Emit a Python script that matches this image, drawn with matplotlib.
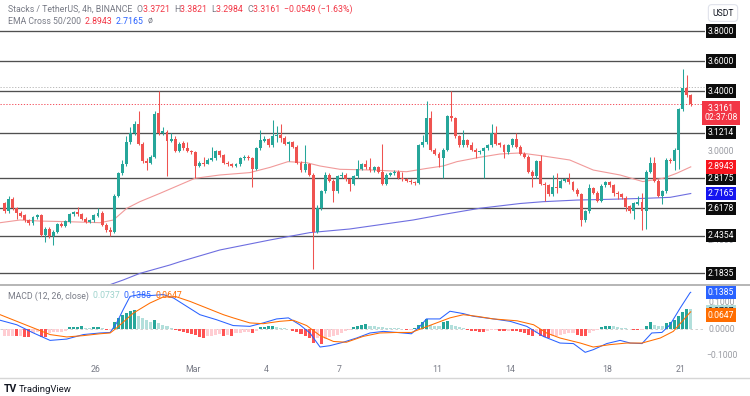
import matplotlib
matplotlib.use('Agg')
import matplotlib.pyplot as plt
import matplotlib.transforms as mtransforms
import numpy as np

plt.rcParams['font.family'] = ['Roboto', 'DejaVu Sans']

# ---------------- data ----------------
first_open = 2.65
closes = [2.60, 2.68, 2.62, 2.59, 2.57, 2.54, 2.52, 2.56, 2.57, 2.44,
          2.48, 2.43, 2.46, 2.51, 2.50, 2.53, 2.58, 2.59, 2.58, 2.55,
          2.53, 2.54, 2.57, 2.59, 2.51, 2.47, 2.46, 2.70, 2.85, 2.91,
          3.06, 3.12, 3.18, 3.05, 2.93, 2.92, 2.96, 3.25, 3.12, 3.13,
          3.07, 3.08, 3.00, 3.05, 3.02, 3.00, 2.99, 2.90, 2.92, 2.915,
          2.94, 2.95, 3.00, 2.97, 2.92, 2.91, 2.90, 2.91, 2.95, 2.96,
          2.95, 2.88, 3.02, 3.07, 3.08, 3.04, 3.10, 3.105, 3.09, 3.05,
          3.06, 3.03, 2.92, 2.87, 2.91, 2.84, 2.46, 2.62, 2.73, 2.84,
          2.80, 2.73, 2.83, 2.84, 2.81, 2.78, 2.83, 2.88, 2.91, 2.89,
          2.87, 2.89, 2.86, 2.78, 2.84, 2.85, 2.86, 2.82, 2.81, 2.80,
          2.79, 2.785, 3.04, 3.06, 3.22, 3.01, 2.98, 2.95, 3.01, 3.23,
          3.22, 3.10, 3.04, 3.07, 3.04, 3.01, 2.99, 3.00, 3.02, 3.04,
          3.12, 3.05, 3.04, 2.99, 3.04, 3.08, 3.03, 2.98, 2.96, 2.86,
          2.83, 2.93, 2.78, 2.77, 2.71, 2.76, 2.755, 2.80, 2.81, 2.79,
          2.74, 2.71, 2.54, 2.60, 2.75, 2.72, 2.67, 2.77, 2.79, 2.77,
          2.72, 2.71, 2.69, 2.63, 2.60, 2.65, 2.66, 2.60, 2.86, 2.92,
          2.80, 2.70, 2.73, 2.94, 2.93, 3.01, 3.28, 3.42, 3.372, 3.3161]
highs = [2.66, 2.70, 2.69, 2.63, 2.60, 2.58, 2.55, 2.57, 2.58, 2.58,
         2.49, 2.49, 2.47, 2.52, 2.53, 2.54, 2.59, 2.60, 2.63, 2.59,
         2.56, 2.55, 2.58, 2.62, 2.60, 2.52, 2.49, 2.71, 2.86, 2.94,
         3.10, 3.16, 3.20, 3.27, 3.06, 2.95, 2.97, 3.27, 3.40, 3.16,
         3.14, 3.12, 3.10, 3.06, 3.07, 3.06, 3.01, 3.00, 2.93, 2.96,
         2.95, 3.03, 3.01, 3.01, 2.98, 2.93, 2.92, 2.92, 2.96, 2.97,
         2.97, 2.96, 3.03, 3.14, 3.10, 3.09, 3.21, 3.17, 3.18, 3.10,
         3.07, 3.07, 3.04, 2.93, 3.04, 2.92, 2.85, 2.64, 2.74, 2.86,
         2.85, 2.81, 2.84, 2.86, 2.85, 2.82, 2.84, 2.94, 2.92, 2.94,
         2.95, 2.90, 2.90, 3.05, 2.85, 2.86, 2.87, 2.87, 2.86, 2.82,
         2.81, 2.80, 3.05, 3.11, 3.33, 3.27, 3.02, 2.99, 3.02, 3.24,
         3.40, 3.23, 3.11, 3.14, 3.08, 3.06, 3.02, 3.01, 3.03, 3.05,
         3.18, 3.17, 3.06, 3.05, 3.05, 3.09, 3.12, 3.04, 2.99, 2.97,
         2.87, 2.94, 2.97, 2.79, 2.78, 2.84, 2.85, 2.81, 2.82, 2.85,
         2.80, 2.75, 2.72, 2.61, 2.78, 2.76, 2.73, 2.78, 2.80, 2.80,
         2.78, 2.73, 2.72, 2.70, 2.64, 2.66, 2.70, 2.72, 2.87, 2.96,
         2.96, 2.81, 2.74, 2.95, 2.95, 3.02, 3.29, 3.55, 3.51, 3.3821]
lows = [2.59, 2.59, 2.61, 2.55, 2.56, 2.53, 2.51, 2.51, 2.55, 2.43,
        2.39, 2.42, 2.37, 2.45, 2.49, 2.49, 2.52, 2.57, 2.57, 2.54,
        2.52, 2.52, 2.53, 2.56, 2.50, 2.46, 2.43, 2.45, 2.69, 2.84,
        2.90, 3.05, 3.11, 3.04, 2.92, 2.87, 2.91, 2.95, 3.11, 3.11,
        2.83, 3.06, 2.99, 2.99, 3.01, 2.99, 2.98, 2.82, 2.89, 2.90,
        2.91, 2.93, 2.94, 2.96, 2.91, 2.90, 2.89, 2.89, 2.90, 2.94,
        2.94, 2.76, 2.87, 3.01, 3.06, 3.03, 3.03, 3.06, 3.06, 3.04,
        2.93, 3.02, 2.91, 2.86, 2.86, 2.83, 2.21, 2.45, 2.61, 2.72,
        2.79, 2.66, 2.72, 2.82, 2.80, 2.73, 2.77, 2.82, 2.87, 2.88,
        2.86, 2.86, 2.85, 2.77, 2.77, 2.83, 2.84, 2.81, 2.80, 2.79,
        2.78, 2.77, 2.78, 3.03, 3.05, 3.00, 2.97, 2.89, 2.82, 3.00,
        3.20, 3.09, 3.03, 3.03, 3.03, 3.00, 2.95, 2.98, 2.82, 3.01,
        3.03, 3.04, 3.03, 2.95, 2.98, 3.03, 3.02, 2.97, 2.95, 2.85,
        2.76, 2.82, 2.77, 2.67, 2.70, 2.70, 2.72, 2.75, 2.79, 2.78,
        2.73, 2.70, 2.50, 2.53, 2.59, 2.71, 2.66, 2.66, 2.76, 2.76,
        2.70, 2.68, 2.68, 2.60, 2.59, 2.55, 2.64, 2.47, 2.48, 2.85,
        2.79, 2.69, 2.65, 2.72, 2.92, 2.87, 2.88, 3.27, 3.36, 3.2984]

# EMA lines (candle index, value)
ema50_idx = [-1.1, 3.8, 8.7, 15.3, 23.5, 26.8, 30.1, 33.3, 38.3, 43.2, 46.9, 53.0,
             60.4, 65.4, 69.8, 74.4, 77.7, 82.6, 90.7, 99.0, 104.0, 108.0, 111.4,
             117.0, 122.0, 127.0, 132.6, 139.2, 145.0, 151.6, 157.2, 162.2, 165.5, 169.0]
ema50_val = [2.522, 2.540, 2.533, 2.529, 2.522, 2.540, 2.618, 2.662, 2.718, 2.775, 2.818, 2.840,
             2.856, 2.891, 2.929, 2.922, 2.900, 2.878, 2.873, 2.862, 2.884, 2.900, 2.929,
             2.958, 2.980, 2.987, 2.967, 2.940, 2.873, 2.840, 2.796, 2.818, 2.851, 2.8943]
ema200_idx = [24.0, 29.2, 33.3, 40.7, 43.2, 53.0, 65.4, 75.2, 85.0, 100.6, 107.2, 117.0,
              127.0, 132.6, 141.0, 149.0, 157.2, 163.9, 169.0]
ema200_val = [2.090, 2.140, 2.184, 2.240, 2.262, 2.340, 2.407, 2.456, 2.480, 2.540, 2.573, 2.618,
              2.650, 2.662, 2.673, 2.678, 2.684, 2.691, 2.7165]

levels = [3.8000, 3.6000, 3.4000, 3.1214, 2.8175, 2.6178, 2.4354, 2.1835]
level_labels = ['3.8000', '3.6000', '3.4000', '3.1214', '2.8175', '2.6178', '2.4354', '2.1835']
price_ticks = [2.4, 3.0, 3.2]          # the scale labels not hidden behind the boxes
last_price = 3.3161
prev_dotted = 3.424

# MACD
macd_hist = [-0.025, -0.025, -0.025, -0.028, -0.028, -0.030, -0.031, -0.015, -0.013, -0.030,
             -0.032, -0.015, -0.013, -0.011, -0.010, -0.009, 0.006, 0.008, 0.009, 0.010,
             0.004, 0.002, 0.008, 0.009, 0.003, -0.004, -0.003, 0.025, 0.042, 0.054,
             0.060, 0.067, 0.073, 0.048, 0.042, 0.033, 0.025, 0.035, 0.023, 0.016,
             0.010, 0.004, -0.005, -0.009, -0.013, -0.015, -0.018, -0.021, -0.030, -0.034,
             -0.028, -0.025, -0.021, -0.020, -0.028, -0.021, -0.025, -0.015, -0.014, -0.013,
             -0.012, -0.016, -0.006, 0.006, 0.008, 0.010, 0.012, 0.008, 0.004, 0.002,
             0.001, -0.009, -0.013, -0.018, -0.025, -0.034, -0.053, -0.034, -0.055, -0.038,
             -0.030, -0.025, -0.021, -0.015, -0.009, -0.005, 0.006, 0.013, 0.016, 0.018,
             0.013, 0.010, 0.008, 0.006, 0.005, 0.004, 0.003, 0.002, 0.001, -0.005,
             -0.004, 0.004, 0.016, 0.025, 0.038, 0.016, 0.013, 0.010, 0.025, 0.029,
             0.016, 0.010, 0.006, 0.004, -0.003, -0.006, -0.009, -0.011, -0.013, -0.006,
             -0.005, -0.004, -0.006, -0.009, -0.006, -0.007, -0.009, -0.011, -0.015, -0.021,
             -0.025, -0.015, -0.028, -0.030, -0.034, -0.028, -0.025, -0.021, -0.018, -0.015,
             -0.014, -0.021, -0.025, -0.026, -0.015, -0.009, -0.003, 0.006, 0.010, 0.013,
             0.010, 0.008, 0.004, 0.002, 0.001, -0.004, -0.005, -0.004, 0.013, 0.025,
             0.016, 0.013, 0.010, 0.023, 0.025, 0.033, 0.048, 0.063, 0.075, 0.0737]
macd_idx = [-1.1, 3.0, 7.1, 11.2, 15.3, 19.4, 23.5, 26.0, 27.6, 29.2, 30.9, 33.3, 35.8, 39.1,
            41.6, 44.8, 48.1, 52.2, 56.3, 60.4, 63.7, 67.0, 69.9, 72.7, 75.2, 77.7, 80.1,
            83.4, 86.7, 90.0, 93.3, 96.6, 100.2, 102.3, 103.9, 107.2, 109.7, 113.0, 115.5,
            120.4, 124.5, 128.6, 132.7, 136.8, 140.1, 143.0, 145.0, 148.3, 151.6, 154.1,
            157.0, 159.4, 161.9, 163.9, 166.4, 168.8, 169.0]
macd_val = [0.033, 0.016, -0.015, -0.043, -0.038, -0.021, -0.015, -0.013, 0.023, 0.073, 0.123,
            0.130, 0.126, 0.130, 0.117, 0.086, 0.054, 0.035, 0.013, 0.010, 0.023, 0.038, 0.042,
            0.016, -0.015, -0.068, -0.063, -0.050, -0.034, -0.015, -0.009, -0.013, -0.018,
            0.010, 0.038, 0.038, 0.067, 0.058, 0.048, 0.038, 0.029, 0.010, -0.028, -0.053,
            -0.055, -0.088, -0.078, -0.055, -0.043, -0.053, -0.055, -0.015, -0.013, 0.016,
            0.079, 0.136, 0.1385]
signal_idx = [-1.1, 3.0, 7.1, 11.2, 15.3, 19.4, 23.5, 26.0, 27.6, 31.7, 35.8, 39.1, 42.4,
              45.7, 49.8, 53.9, 56.3, 60.4, 63.7, 67.8, 71.1, 74.4, 77.7, 81.0, 84.2, 88.3,
              92.4, 96.6, 100.2, 103.1, 106.4, 109.7, 113.0, 116.3, 120.4, 126.2, 130.3,
              133.5, 136.8, 141.8, 145.0, 149.1, 153.2, 157.0, 161.5, 164.7, 168.8, 169.0]
signal_val = [0.054, 0.029, 0.004, -0.021, -0.030, -0.025, -0.018, -0.015, 0.004, 0.060, 0.098,
              0.121, 0.121, 0.104, 0.079, 0.054, 0.042, 0.023, 0.020, 0.029, 0.033, 0.013,
              -0.025, -0.047, -0.050, -0.028, -0.015, -0.013, -0.013, 0.004, 0.023, 0.042,
              0.054, 0.048, 0.038, 0.031, 0.016, -0.015, -0.034, -0.053, -0.068, -0.059,
              -0.053, -0.053, -0.034, -0.009, 0.062, 0.0647]
macd_ticks = [0.1, 0.0, -0.1]

day_labels = ['26', 'Mar', '4', '7', '11', '14', '18', '21']
day_offsets = [0, 4, 7, 10, 14, 17, 21, 24]   # days after Feb 26
feb26_index = 22.5
candles_per_day = 6

# ---------------- style ----------------
GREEN = '#26a69a'
RED = '#ef5350'
GRAY = '#787b86'
W, H = 750, 396
X0_PX, STEP_PX = 4.6, 4.06


def fx(px):
    return px / W


def fy(py):
    return 1 - py / H


fig = plt.figure(figsize=(7.5, 3.96), dpi=100)
fig.patch.set_facecolor('white')

ax = fig.add_axes([0, fy(285), fx(705), 285 / H])
axm = fig.add_axes([0, fy(364), fx(705), (364 - 286) / H])
xl = ((0 - X0_PX) / STEP_PX, (705 - X0_PX) / STEP_PX)
for a in (ax, axm):
    a.set_xlim(*xl)
    a.set_axis_off()
ax.set_ylim(3.4 - 194 / 150, 3.4 + 91 / 150)
axm.set_ylim(-35 / 265, 43 / 265)

# candles
c = np.array(closes)
o = np.array([first_open] + closes[:-1])
hi = np.array(highs)
lo = np.array(lows)
idx = np.arange(len(c))
cols = np.where(c >= o, GREEN, RED)
ax.vlines(idx, lo, hi, colors=cols, lw=0.75, zorder=3)
ax.bar(idx, np.maximum(np.abs(c - o), 0.004), bottom=np.minimum(o, c), width=0.72,
       color=cols, zorder=4, linewidth=0)

# EMA lines
ax.plot(ema50_idx, ema50_val, color='#f19a9a', lw=0.8, zorder=2)
ax.plot(ema200_idx, ema200_val, color='#6e6ee0', lw=0.8, zorder=2)

# levels
for lv in levels:
    ax.axhline(lv, color='#505050', lw=0.95, zorder=1)
ax.axhline(last_price, color='#f23645', lw=0.6, ls=(0, (1.5, 2)), zorder=1)
ax.axhline(prev_dotted, color='#b0b0b0', lw=0.6, ls=(0, (1.5, 2)), zorder=1)

# separator and bottom border
fig.add_artist(plt.Line2D([0, 1], [fy(285), fy(285)], color='#b5b5b5', lw=1.4))
fig.add_artist(plt.Line2D([0, 1], [fy(377.5), fy(377.5)], color='#d6d6d6', lw=1.0))

# price axis labels
tr_main = mtransforms.blended_transform_factory(fig.transFigure, ax.transData)
for t in price_ticks:
    ax.text(fx(721), t, f'{t:.4f}', transform=tr_main, ha='center', va='center',
            fontsize=6.2, color='#9a9ca3', zorder=5, clip_on=False)
for lv, lab in zip(levels, level_labels):
    ax.text(fx(721), lv, lab, transform=tr_main, ha='center', va='center', fontsize=6.2,
            color='white', zorder=10, clip_on=False,
            bbox=dict(boxstyle='square,pad=0.25', fc='#0c0c0c', ec='none'))
ax.text(fx(721), last_price, f'{last_price:.4f}\n02:37:08', transform=tr_main,
        ha='center', va='top', fontsize=6.2, color='white', zorder=10, clip_on=False,
        linespacing=1.05,
        bbox=dict(boxstyle='square,pad=0.3', fc='#f23645', ec='none'))
ax.text(fx(721), ema50_val[-1], f'{ema50_val[-1]:.4f}', transform=tr_main, ha='center',
        va='center', fontsize=6.2, color='white', zorder=10, clip_on=False,
        bbox=dict(boxstyle='square,pad=0.25', fc='#f7151e', ec='none'))
ax.text(fx(721), ema200_val[-1], f'{ema200_val[-1]:.4f}', transform=tr_main, ha='center',
        va='center', fontsize=6.2, color='white', zorder=10, clip_on=False,
        bbox=dict(boxstyle='square,pad=0.25', fc='#1515f0', ec='none'))

# USDT button
fig.text(fx(723), fy(13), 'USDT', ha='center', va='center', fontsize=6.2, color='#131722',
         bbox=dict(boxstyle='round,pad=0.45,rounding_size=0.4', fc='white', ec='#e0e3eb', lw=0.8))

# MACD pane
h = np.array(macd_hist)
prev = np.concatenate([[h[0]], h[:-1]])
hcols = np.where(h >= 0, np.where(h >= prev, '#26a69a', '#b2dfdb'),
                 np.where(h >= prev, '#ffcdd2', '#ff5252'))
axm.bar(idx, h, width=0.75, color=hcols, linewidth=0, zorder=2)
axm.axhline(0, color='#c8c8c8', lw=0.6, ls=(0, (3, 3)), zorder=1)
axm.plot(macd_idx, macd_val, color='#2962ff', lw=0.75, zorder=3)
axm.plot(signal_idx, signal_val, color='#ff6d00', lw=0.75, zorder=3)

tr_macd = mtransforms.blended_transform_factory(fig.transFigure, axm.transData)
for t in macd_ticks:
    axm.text(fx(722), t, f'{t:.4f}'.replace('-', '\u2212'), transform=tr_macd, ha='center',
             va='center', fontsize=6.2, color='#9a9ca3', zorder=5, clip_on=False)
axm.text(fx(721), macd_val[-1], f'{macd_val[-1]:.4f}', transform=tr_macd, ha='center',
         va='center', fontsize=6.2, color='white', zorder=10, clip_on=False,
         bbox=dict(boxstyle='square,pad=0.25', fc='#2962ff', ec='none'))
axm.text(fx(721), macd_hist[-1] - 0.007, f'{macd_hist[-1]:.4f}', transform=tr_macd,
         ha='center', va='center', fontsize=6.2, color='#131722', zorder=10, clip_on=False,
         bbox=dict(boxstyle='square,pad=0.25', fc='#b2dfdb', ec='none'))
axm.text(fx(721), signal_val[-1] - 0.012, f'{signal_val[-1]:.4f}', transform=tr_macd,
         ha='center', va='center', fontsize=6.2, color='white', zorder=10, clip_on=False,
         bbox=dict(boxstyle='square,pad=0.25', fc='#ff6d00', ec='none'))


# header texts
def seq(y, parts, x0, size=6.3):
    x = x0
    r = fig.canvas.get_renderer()
    for s, col in parts:
        t = fig.text(fx(x), fy(y), s, fontsize=size, color=col, ha='left', va='center')
        bb = t.get_window_extent(renderer=r)
        x += bb.width


RV = '#f23645'
seq(9.5, [('Stacks / TetherUS, 4h, BINANCE  ', GRAY), ('O', GRAY), ('3.3721  ', RV),
          ('H', GRAY), ('3.3821  ', RV), ('L', GRAY), ('3.2984  ', RV), ('C', GRAY),
          ('3.3161  ', RV), ('\u22120.0549 (\u22121.63%)', RV)], 8)
seq(21.5, [('EMA Cross 50/200  ', GRAY), ('2.8943  ', RV), ('2.7165  ', '#2962ff'),
           ('\u00f8', GRAY)], 8)
seq(296, [('MACD (12, 26, close)  ', GRAY), ('0.0737  ', '#9fd3cd'), ('0.1385  ', '#2962ff'),
          ('0.0647', '#ff6d00')], 8)

# date labels
for lab, d in zip(day_labels, day_offsets):
    pos = feb26_index + candles_per_day * d
    xpx = X0_PX + STEP_PX * pos
    fig.text(fx(xpx), fy(369), lab, fontsize=6.3, color=GRAY, ha='center', va='center')

# TradingView logo
fig.text(fx(4), fy(389), 'TV', fontsize=7.5, color='#131722', ha='left', va='center',
         fontweight='bold')
fig.text(fx(19), fy(389), 'TradingView', fontsize=6.8, color='#131722', ha='left', va='center')

fig.savefig('out.png', dpi=100, facecolor='white')
